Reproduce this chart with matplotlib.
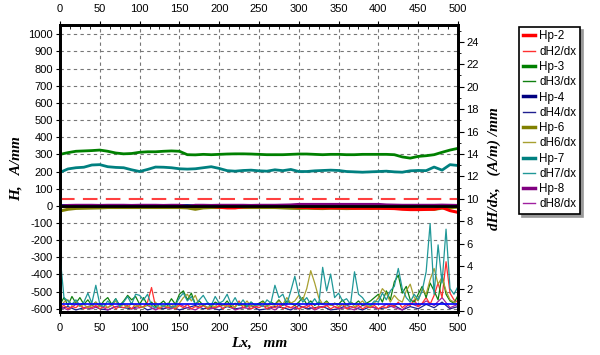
import matplotlib
matplotlib.use("Agg")
import matplotlib.pyplot as plt
import numpy as np
from matplotlib.ticker import MultipleLocator
from matplotlib.lines import Line2D

plt.rcParams["axes.unicode_minus"] = False

# positions along the scan, mm
x_h = np.arange(0, 501, 10)     # field curves, 10 mm step
x_d = np.arange(0, 501, 5)      # gradient curves, 5 mm step
x_d10 = np.arange(0, 501, 10)

# field H, A/mm (left axis)
hp2 = [-3, -4, -3, -3, -4, -3, -3, -4, -3, -4, -3, -3, -4, -3, -3, -4, -3, -4, -3, -3,
       -8, -12, -12, -6, -4, -4, -3, -4, -3, -4, -8, -10, -12, -12, -12, -12, -12, -14, -14, -14,
       -14, -15, -16, -20, -22, -22, -21, -20, -10, -28, -38]
hp3 = [300, 310, 318, 320, 322, 325, 318, 308, 303, 305, 312, 315, 315, 318, 320, 318, 298, 297, 300, 298,
       300, 302, 303, 303, 302, 300, 298, 298, 298, 300, 302, 302, 300, 298, 300, 300, 298, 298, 300, 300,
       300, 300, 298, 285, 278, 288, 292, 298, 312, 325, 335]
hp4 = [1, 1, 0, 1, 1, 0, 1, 1, 0, 1, 1, 0, 1, 1, 0, 1, 1, 0, 1, 1,
       0, 1, 1, 0, 1, 1, 0, 1, 1, 0, 1, 1, 0, 1, 1, 0, 1, 1, 0, 1,
       1, 0, 1, 1, 0, 1, 1, 0, 1, 1, 0]
hp6 = [-30, -20, -15, -14, -13, -12, -10, -10, -10, -10, -10, -10, -10, -10, -10, -10, -12, -20, -12, -10,
       -10, -10, -10, -10, -10, -10, -10, -10, -12, -14, -15, -14, -15, -16, -14, -15, -16, -15, -14, -15,
       -14, -14, -15, -16, -16, -18, -18, -20, -14, -10, -8]
hp7 = [195, 215, 222, 225, 238, 240, 228, 224, 222, 210, 200, 212, 226, 225, 222, 216, 214, 216, 222, 228,
       218, 205, 202, 206, 208, 204, 202, 210, 205, 212, 200, 200, 204, 206, 208, 206, 200, 198, 196, 198,
       200, 202, 198, 196, 204, 206, 205, 226, 208, 240, 235]
hp8 = [-5, 2, 3, 3, 3, 2, 3, 3, 3, 2, 3, 3, 3, 2, 3, 3, -5, 3, 3, 2,
       3, 3, 3, 3, 2, 3, 3, 3, 4, 5, 8, 8, 8, 8, 8, 8, 8, 8, 8, 8,
       8, 5, 4, 3, 3, 3, 3, 3, 4, 3, 2]

# gradient dH/dx, (A/m)/mm (right axis)
dh2 = [0.3, 0.5, 0.2, 0.4, 0.3, 0.6, 0.2, 0.4, 0.3, 0.5, 0.2, 0.4, 0.3, 0.6, 0.2, 0.4, 0.3, 0.5, 0.2, 0.6,
       0.3, 0.4, 0.8, 2.1, 0.4, 0.2, 0.5, 0.3, 0.4, 0.2, 0.5, 0.3, 0.6, 0.2, 0.4, 0.3, 0.5, 0.2, 0.4, 0.3,
       0.5, 0.2, 0.6, 0.3, 0.4, 0.9, 0.3, 0.5, 0.2, 0.4, 0.3, 0.5, 0.2, 0.4, 0.3, 0.6, 0.2, 0.4, 0.3, 0.5,
       0.2, 0.4, 0.3, 0.6, 0.2, 0.4, 0.3, 0.5, 0.2, 0.4, 0.3, 0.6, 0.2, 0.4, 0.3, 0.5, 0.2, 0.4, 0.3, 0.5,
       0.2, 0.4, 0.3, 0.6, 0.4, 0.8, 0.3, 0.6, 0.5, 1.0, 0.4, 0.7, 1.2, 0.6, 1.4, 2.5, 1.2, 4.4, 1.6, 1.0,
       0.8]
dh3 = [0.6, 1.2, 0.5, 1.3, 0.7, 1.2, 0.6, 1.0, 0.5, 0.8, 0.4, 0.9, 1.2, 0.6, 1.1, 0.5, 0.9, 1.4, 1.0, 1.3,
       0.6, 1.2, 0.5, 0.8, 0.4, 0.6, 0.9, 0.5, 1.1, 0.6, 1.5, 1.8, 1.0, 1.6, 0.6, 0.9, 0.5, 0.7, 0.4, 0.8,
       0.6, 0.5, 0.9, 0.4, 0.7, 0.5, 0.6, 0.4, 0.8, 0.5, 0.7, 0.9, 0.5, 0.8, 0.6, 1.0, 0.5, 0.9, 0.7, 0.5,
       0.8, 1.2, 0.6, 0.9, 0.5, 0.8, 0.6, 0.9, 0.5, 0.7, 0.6, 1.0, 0.5, 0.8, 0.6, 0.9, 0.5, 0.7, 0.9, 1.2,
       1.5, 0.8, 1.8, 1.0, 2.6, 3.2, 1.6, 2.2, 1.0, 0.8, 1.5, 2.2, 1.2, 2.5, 1.8, 1.0, 3.2, 1.5, 0.9, 0.7,
       1.4]
dh4 = [0.2, 0.4, 0.1, 0.3, 0.5, 0.2, 0.1, 0.4, 0.3, 0.2, 0.5, 0.1, 0.3, 0.2, 0.4, 0.1, 0.3, 0.5, 0.2, 0.3,
       0.1, 0.4, 0.2, 0.3, 0.5, 0.1, 0.2, 0.4, 0.3, 0.1, 0.5, 0.2, 0.3, 0.4, 0.1, 0.2, 0.5, 0.3, 0.1, 0.4,
       0.2, 0.3, 0.5, 0.1, 0.4, 0.2, 0.6, 0.3, 0.8, 0.2, 0.4]
dh6 = [0.3, 0.8, 1.0, 0.5, 0.9, 0.4, 0.6, 0.3, 0.5, 0.8, 0.4, 0.7, 0.3, 0.5, 0.9, 0.4, 0.6, 0.3, 0.7, 0.4,
       0.5, 0.3, 0.6, 0.4, 0.8, 0.3, 0.5, 0.4, 0.6, 0.3, 0.7, 1.2, 1.5, 0.9, 1.4, 0.5, 0.6, 0.3, 0.5, 0.4,
       0.8, 0.5, 0.4, 0.6, 0.3, 0.8, 0.5, 0.9, 0.4, 0.6, 0.5, 0.8, 0.4, 0.6, 0.5, 0.9, 0.6, 1.2, 0.7, 0.9,
       1.4, 1.0, 2.0, 3.6, 2.5, 1.2, 0.6, 0.8, 0.5, 0.7, 0.4, 0.6, 0.5, 0.8, 0.4, 0.6, 0.9, 0.5, 0.4, 0.7,
       1.2, 2.0, 1.6, 0.8, 1.4, 1.0, 0.8, 1.8, 2.4, 1.2, 0.9, 2.0, 1.5, 2.8, 3.8, 2.4, 3.0, 1.8, 1.0, 0.8,
       0.6]
dh7 = [5.0, 1.2, 0.9, 0.6, 1.0, 0.5, 0.8, 1.6, 0.7, 2.3, 0.6, 0.4, 0.9, 0.5, 1.1, 0.4, 0.8, 1.3, 0.6, 1.5,
       1.4, 1.0, 1.5, 0.5, 0.3, 0.6, 0.4, 0.7, 0.3, 0.5, 1.2, 1.6, 0.9, 1.3, 0.6, 1.0, 1.4, 0.8, 0.5, 1.3,
       0.7, 0.9, 1.5, 0.6, 1.2, 0.5, 1.0, 0.4, 0.8, 0.5, 0.6, 0.4, 1.0, 0.7, 2.3, 1.2, 1.5, 0.6, 1.8, 3.1,
       1.5, 0.8, 1.2, 0.6, 1.1, 0.5, 3.9, 1.8, 3.3, 1.2, 1.6, 0.9, 1.1, 0.6, 3.5, 1.5, 1.2, 0.7, 0.5, 0.9,
       0.8, 1.6, 1.0, 1.8, 2.2, 3.8, 2.0, 1.2, 0.8, 1.5, 1.0, 1.8, 3.5, 7.8, 1.5, 5.9, 2.5, 7.3, 2.0, 1.5,
       2.2]
dh8 = [0.4, 0.1, 0.6, 0.3, 0.2, 0.5, 0.1, 0.4, 0.6, 0.2, 0.3, 0.5, 0.1, 0.4, 0.2, 0.6, 0.3, 0.1, 0.5, 0.2,
       0.4, 0.6, 0.1, 0.3, 0.2, 0.5, 0.4, 0.1, 0.6, 0.3, 0.2, 0.5, 0.1, 0.4, 0.6, 0.2, 0.3, 0.1, 0.5, 0.4,
       0.2, 0.6, 0.3, 0.1, 0.7, 0.4, 0.9, 0.5, 1.2, 0.3, 0.6]

threshold_grad = 10.0   # red dashed level, right axis
floor_grad = 0.6        # blue level, right axis

c_hp = {"2": "#ff0000", "3": "#008000", "4": "#000080", "6": "#808000", "7": "#008080", "8": "#800080"}
c_dh = {"2": "#ff3030", "3": "#108010", "4": "#202090", "6": "#a8a030", "7": "#209898", "8": "#a020a0"}

tick_font = "Liberation Sans"
lab_font = dict(family="Liberation Serif", style="italic", weight="bold", size=11)

fig = plt.figure(figsize=(6, 3.55), dpi=100)
ax = fig.add_axes([0.1, 0.1225, 0.6633, 0.8071])
ax2 = ax.twinx()

ax.set_xlim(0, 500)
ax.set_ylim(-616, 1054)
ax2.set_ylim(-0.04, 25.5)

# field curves
ax.plot(x_h, hp6, color=c_hp["6"], lw=2.2)
ax.plot(x_h, hp2, color=c_hp["2"], lw=2.2)
ax.plot(x_h, hp4, color=c_hp["4"], lw=2.2)
ax.plot(x_h, hp8, color=c_hp["8"], lw=2.2)
ax.axhline(0, color="black", lw=2)
ax.plot(x_h, hp3, color=c_hp["3"], lw=2)
ax.plot(x_h, hp7, color=c_hp["7"], lw=2)

# gradient curves
ax2.plot(x_d10, dh4, color=c_dh["4"], lw=0.9)
ax2.plot(x_d10, dh8, color=c_dh["8"], lw=0.9)
ax2.plot(x_d, dh2, color=c_dh["2"], lw=0.9)
ax2.plot(x_d, dh3, color=c_dh["3"], lw=0.9)
ax2.plot(x_d, dh6, color=c_dh["6"], lw=0.9)
ax2.plot(x_d, dh7, color=c_dh["7"], lw=0.9)
ax2.axhline(threshold_grad, color="#ff4040", lw=1.5, dashes=(7, 4))
ax2.axhline(floor_grad, color="#0000ff", lw=1.2)

# grid and ticks
ax.set_xticks(np.arange(0, 501, 50))
ax.set_yticks(np.arange(-600, 1001, 100))
ax.grid(True, linestyle=(0, (3, 3)), color="#777777", lw=0.8)
ax.xaxis.set_minor_locator(MultipleLocator(12.5))
ax.tick_params(axis="x", which="major", top=True, labeltop=True, bottom=True, length=3, pad=5)
ax.tick_params(axis="x", which="minor", top=True, bottom=False, direction="in", length=3)
ax.tick_params(axis="y", length=3, pad=2)
ax2.set_yticks(np.arange(0, 25, 2))
ax2.yaxis.set_minor_locator(MultipleLocator(1))
ax2.tick_params(axis="y", which="major", length=4, pad=2)
ax2.tick_params(axis="y", which="minor", length=2)
for a in (ax, ax2):
    for lab in a.get_xticklabels() + a.get_yticklabels():
        lab.set_fontfamily(tick_font)
        lab.set_fontsize(8)
    for sp in a.spines.values():
        sp.set_linewidth(2)

ax.set_xlabel("Lx,   mm", fontdict=lab_font, labelpad=3)
ax.set_ylabel("H,   A/mm", fontdict=lab_font, labelpad=4)
ax2.set_ylabel("dH/dx,   (A/m) /mm", fontdict=lab_font, rotation=90, labelpad=6)

# legend
names = ["2", "3", "4", "6", "7", "8"]
handles, labels = [], []
for n in names:
    handles.append(Line2D([], [], color=c_hp[n], lw=2.5))
    labels.append("Hp-" + n)
    handles.append(Line2D([], [], color=c_dh[n], lw=1))
    labels.append("dH" + n + "/dx")
leg = fig.legend(handles, labels, loc="upper left", bbox_to_anchor=(0.865, 0.924),
                 prop={"family": tick_font, "size": 8.4}, frameon=True, fancybox=False,
                 shadow={"color": "#999999", "alpha": 1}, edgecolor="black",
                 handlelength=1.1, handletextpad=0.35, labelspacing=0.28,
                 borderpad=0.3, borderaxespad=0)
leg.get_frame().set_linewidth(1.2)

fig.savefig("out.png", dpi=100)
